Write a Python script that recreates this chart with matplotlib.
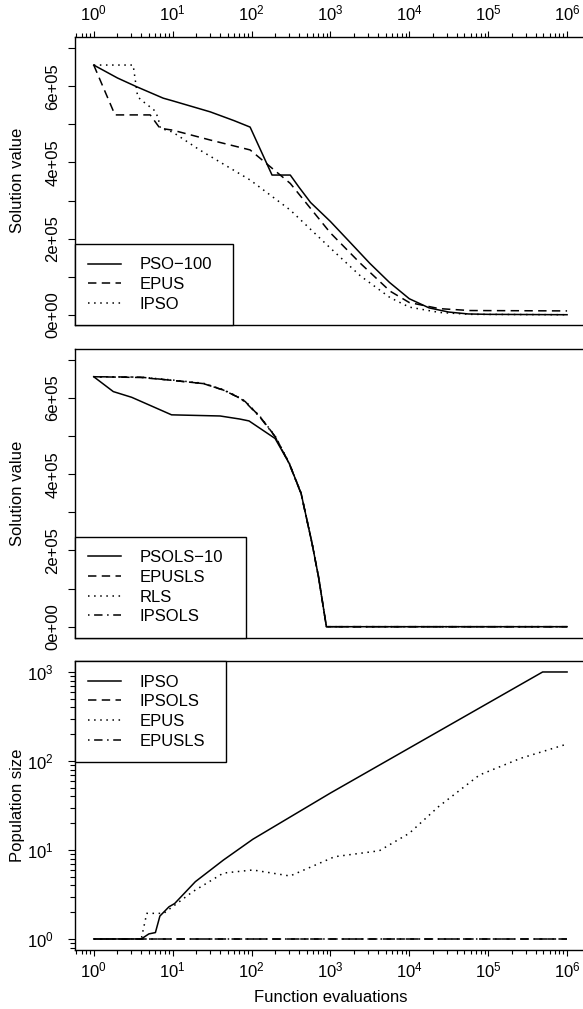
import matplotlib
matplotlib.use('Agg')
import matplotlib.pyplot as plt
from matplotlib.ticker import LogLocator, NullFormatter, LogFormatterSciNotation, FixedLocator

plt.rcParams['font.family'] = ['Liberation Sans', 'DejaVu Sans']
plt.rcParams['mathtext.fontset'] = 'custom'
plt.rcParams['mathtext.rm'] = 'Liberation Sans'
plt.rcParams['mathtext.it'] = 'Liberation Sans:italic'
plt.rcParams['mathtext.bf'] = 'Liberation Sans:bold'

# ---------------- data ----------------
# Panel 1: solution value (non-LS variants)
pso100_x = [1, 2, 3.5, 7.6, 10, 30, 60, 96, 182, 310, 400, 560, 1000, 1780, 3160, 5600, 10000, 17800, 31600, 56200, 100000, 1000000]
pso100_y = [6.56e5, 6.22e5, 5.99e5, 5.69e5, 5.62e5, 5.33e5, 5.10e5, 4.93e5, 3.67e5, 3.67e5, 3.35e5, 2.95e5, 2.45e5, 1.90e5, 1.35e5, 0.85e5, 0.42e5, 0.18e5, 0.07e5, 0.02e5, 0.01e5, 0.0]

epus_x = [1, 1.86, 5.2, 6.9, 10, 30, 96, 310, 1000, 2400, 5700, 10000, 24000, 59000, 1000000]
epus_y = [6.56e5, 5.25e5, 5.25e5, 4.90e5, 4.85e5, 4.59e5, 4.33e5, 3.45e5, 2.15e5, 1.35e5, 0.62e5, 0.32e5, 0.16e5, 0.11e5, 0.10e5]

ipso_x = [1, 3.16, 3.6, 4.0, 5.8, 6.5, 7.0, 10, 22, 96, 310, 1000, 2400, 5700, 10000, 24000, 59000, 1000000]
ipso_y = [6.56e5, 6.56e5, 5.73e5, 5.64e5, 5.38e5, 5.20e5, 4.90e5, 4.80e5, 4.33e5, 3.54e5, 2.75e5, 1.75e5, 1.02e5, 0.45e5, 0.20e5, 0.06e5, 0.01e5, 0.0]

# Panel 2: solution value (LS variants)
psols_x = [1, 1.77, 3.03, 9.7, 40, 71, 93, 199, 300, 425, 585, 708, 890, 1000000]
psols_y = [6.56e5, 6.17e5, 6.02e5, 5.56e5, 5.53e5, 5.45e5, 5.40e5, 4.94e5, 4.29e5, 3.50e5, 2.19e5, 1.30e5, 0.0, 0.0]

epusls_x = [1, 3.9, 9.3, 24.5, 44, 65, 83, 128, 200, 300, 425, 585, 708, 890, 1000000]
epusls_y = [6.56e5, 6.54e5, 6.47e5, 6.38e5, 6.21e5, 6.04e5, 5.91e5, 5.51e5, 4.99e5, 4.29e5, 3.50e5, 2.19e5, 1.30e5, 0.0, 0.0]

rls_x = [1, 3.9, 9.3, 24.5, 44, 65, 83, 128, 200, 300, 425, 585, 708, 890, 1000000]
rls_y = [6.56e5, 6.55e5, 6.48e5, 6.39e5, 6.22e5, 6.05e5, 5.92e5, 5.52e5, 5.00e5, 4.30e5, 3.51e5, 2.20e5, 1.31e5, 0.0, 0.0]

ipsols_x = [1, 3.9, 9.3, 24.5, 44, 65, 83, 128, 200, 300, 425, 585, 708, 890, 1000000]
ipsols_y = [6.56e5, 6.55e5, 6.47e5, 6.38e5, 6.21e5, 6.04e5, 5.90e5, 5.50e5, 4.98e5, 4.28e5, 3.49e5, 2.18e5, 1.29e5, 0.0, 0.0]

# Panel 3: population size
pop_ipso_x = [1, 4, 5, 6.05, 6.9, 9.0, 10.6, 19.4, 44, 104, 1000, 490000, 1000000]
pop_ipso_y = [1, 1, 1.14, 1.18, 1.81, 2.3, 2.5, 4.4, 7.7, 13.2, 43.6, 1000, 1000]

pop_ipsols_x = [1, 1000000]
pop_ipsols_y = [1, 1]

pop_epus_x = [1, 4, 4.7, 7.7, 18, 44, 104, 308, 1130, 4170, 10000, 23400, 77600, 257000, 1000000]
pop_epus_y = [1, 1, 1.94, 1.94, 3.4, 5.5, 5.96, 5.1, 8.4, 9.8, 15.4, 30.6, 69.6, 107, 155]

pop_epusls_x = [1, 1000000]
pop_epusls_y = [1, 1]

sol_ticks = [0, 1e5, 2e5, 3e5, 4e5, 5e5, 6e5, 7e5]
sol_ticklabels = ['0e+00', '', '2e+05', '', '4e+05', '', '6e+05', '']

legend1 = ['PSO\u2212100', 'EPUS', 'IPSO']
legend2 = ['PSOLS\u221210', 'EPUSLS', 'RLS', 'IPSOLS']
legend3 = ['IPSO', 'IPSOLS', 'EPUS', 'EPUSLS']

# ---------------- styles ----------------
SOLID = '-'
DASHED = (0, (5.5, 3.5))
DOTTED = (0, (1, 3))
DOTDASH = (0, (1, 3, 5.5, 3))
LW = 1.1
FS = 12

W, H = 583, 1009
fig = plt.figure(figsize=(W / 100, H / 100), dpi=100)

def ax_rect(top_px, bottom_px, left_px=74.8, right_px=586.0):
    return [left_px / W, 1 - bottom_px / H, (right_px - left_px) / W, (bottom_px - top_px) / H]

ax1 = fig.add_axes(ax_rect(36.7, 325.0))
ax2 = fig.add_axes(ax_rect(349.3, 637.6))
ax3 = fig.add_axes(ax_rect(661.3, 950.0))

XLIM = (10 ** -0.24, 10 ** 6.24)

for ax in (ax1, ax2, ax3):
    ax.set_xscale('log')
    ax.set_xlim(*XLIM)
    for s in ax.spines.values():
        s.set_linewidth(1.0)
    ax.xaxis.set_major_locator(FixedLocator([10.0 ** k for k in range(0, 7)]))
    ax.xaxis.set_minor_locator(LogLocator(base=10, subs=range(2, 10), numticks=50))
    ax.xaxis.set_major_formatter(LogFormatterSciNotation())
    ax.xaxis.set_minor_formatter(NullFormatter())
    ax.tick_params(axis='both', which='both', direction='out', width=0.8, labelsize=FS, color='black')
    ax.tick_params(axis='x', which='major', length=4.3)
    ax.tick_params(axis='x', which='minor', length=3.0)
    ax.tick_params(axis='y', which='major', length=5.4)
    ax.tick_params(axis='y', which='minor', length=3.8)

# Panel 1
ax1.plot(pso100_x, pso100_y, color='black', lw=LW, linestyle=SOLID, label=legend1[0])
ax1.plot(epus_x, epus_y, color='black', lw=LW, linestyle=DASHED, label=legend1[1])
ax1.plot(ipso_x, ipso_y, color='black', lw=LW, linestyle=DOTTED, label=legend1[2])
ax1.set_ylim(-0.27e5, 7.305e5)
ax1.xaxis.tick_top()
ax1.tick_params(axis='x', which='major', pad=5.0)

# Panel 2
ax2.plot(psols_x, psols_y, color='black', lw=LW, linestyle=SOLID, label=legend2[0])
ax2.plot(epusls_x, epusls_y, color='black', lw=LW, linestyle=DASHED, label=legend2[1])
ax2.plot(rls_x, rls_y, color='black', lw=LW, linestyle=DOTTED, label=legend2[2])
ax2.plot(ipsols_x, ipsols_y, color='black', lw=LW, linestyle=DOTDASH, label=legend2[3])
ax2.set_ylim(-0.286e5, 7.28e5)
ax2.tick_params(axis='x', which='both', bottom=False, top=False, labelbottom=False, labeltop=False)

for ax in (ax1, ax2):
    ax.set_yticks(sol_ticks)
    ax.set_yticklabels(sol_ticklabels, rotation=90, va='center')
    ax.tick_params(axis='y', pad=5.0)
    ax.set_ylabel('Solution value', fontsize=FS)
    ax.yaxis.label.set_va('center')
    ax.yaxis.set_label_coords((18 - 74.8) / (586 - 74.8), 0.5)

# Panel 3
ax3.plot(pop_ipso_x, pop_ipso_y, color='black', lw=LW, linestyle=SOLID, label=legend3[0])
ax3.plot(pop_ipsols_x, pop_ipsols_y, color='black', lw=LW, linestyle=DASHED, label=legend3[1])
ax3.plot(pop_epus_x, pop_epus_y, color='black', lw=LW, linestyle=DOTTED, label=legend3[2])
ax3.plot(pop_epusls_x, pop_epusls_y, color='black', lw=LW, linestyle=DOTDASH, label=legend3[3])
ax3.set_yscale('log')
ax3.set_ylim(10 ** -0.124, 10 ** 3.12)
ax3.yaxis.set_major_locator(FixedLocator([1, 10, 100, 1000]))
ax3.yaxis.set_minor_locator(LogLocator(base=10, subs=range(2, 10), numticks=50))
ax3.yaxis.set_major_formatter(LogFormatterSciNotation())
ax3.yaxis.set_minor_formatter(NullFormatter())
ax3.tick_params(axis='y', which='major', pad=10.0)
ax3.tick_params(axis='x', which='major', pad=3.5)
ax3.set_ylabel('Population size', fontsize=FS)
ax3.yaxis.label.set_va('center')
ax3.yaxis.set_label_coords((18 - 74.8) / (586 - 74.8), 0.5)
ax3.set_xlabel('Function evaluations', fontsize=FS)
ax3.xaxis.label.set_va('center')
ax3.xaxis.set_label_coords(0.5, (950 - 998) / (950 - 661.3))

leg_kw = dict(mode='expand', borderaxespad=0, fancybox=False, edgecolor='black',
              framealpha=1, fontsize=FS, handlelength=2.0, handletextpad=1.1,
              borderpad=0.8, labelspacing=0.28)
AW = 586 - 74.8
l1 = ax1.legend(loc='lower left', bbox_to_anchor=(0, 0, (233.3 - 74.8) / AW, 1), **leg_kw)
l2 = ax2.legend(loc='lower left', bbox_to_anchor=(0, 0, (246 - 74.8) / AW, 1), **leg_kw)
l3 = ax3.legend(loc='upper left', bbox_to_anchor=(0, 0, (225.7 - 74.8) / AW, 1), **leg_kw)
for l in (l1, l2, l3):
    l.get_frame().set_linewidth(1.0)

fig.savefig('out.png', dpi=100)
